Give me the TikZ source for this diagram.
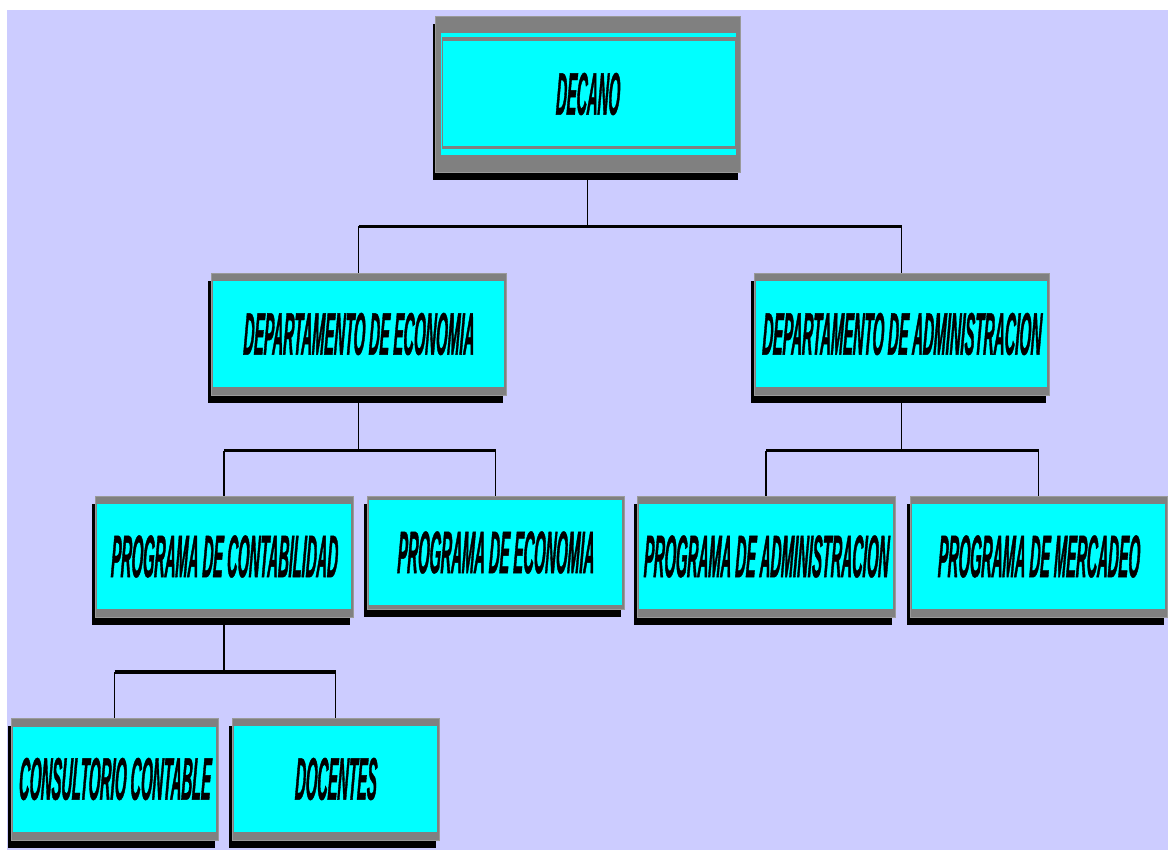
\documentclass[tikz,border=0pt]{standalone}
\usepackage{fontspec}
\newfontfamily\orgfont{Liberation Sans}[FakeStretch=0.245,FakeSlant=0.04,FakeBold=0.6]
\definecolor{bglav}{HTML}{CCCCFF}
\definecolor{boxcyan}{HTML}{00FFFF}
\definecolor{boxgray}{HTML}{808080}
\definecolor{edgegray}{HTML}{9A9A9A}
\pgfdeclarelayer{bg}
\pgfdeclarelayer{lines}
\pgfsetlayers{bg,lines,main}
\tikzset{
  conn/.style={line width=1.2pt, draw=black},
  bar/.style={line width=3.5pt, draw=black},
  boxframe/.style={fill=boxgray, draw=edgegray, line width=0.6pt, inner sep=0pt, outer sep=0pt, anchor=north west},
  boxlabel/.style={font=\orgfont\fontsize{60}{60}\selectfont\bfseries\itshape, inner sep=0pt, text=black},
}
% #1 name, #2 x1, #3 y1, #4 x2, #5 y2, #6 top pad, #7 bottom pad, #8 text
\newcommand\orgbox[8]{%
  \fill[black] (#2-3,#3+8) rectangle (#4-3,#5+8);
  \node[boxframe, minimum width={(#4-#2)*1pt}, minimum height={(#5-#3)*1pt}] (#1) at (#2,#3) {};
  \fill[boxcyan] (#2+2,#3+#6) rectangle (#4-2,#5-#7);
  \node[boxlabel] (#1-t) at (#1.center) {#8};
}
\begin{document}
\begin{tikzpicture}[x=1pt,y=-1pt]
\useasboundingbox (0,0) rectangle (1168,850);
\begin{pgfonlayer}{bg}
  \fill[white] (0,0) rectangle (1168,850);
  \fill[bglav] (7,10) rectangle (1168,850);
\end{pgfonlayer}

% DECANO (double frame)
\fill[black] (433,24) rectangle (738,180);
\node[boxframe, minimum width=305pt, minimum height=156pt] (decano) at (435,16) {};
\fill[boxcyan] (441,33) rectangle (736,155);
\fill[boxgray] (441.5,37.5) rectangle (735.5,149.5);
\fill[boxcyan] (442.5,41) rectangle (734.5,146);
\node[boxlabel] (decano-t) at (decano.center) {DECANO};

\orgbox{deco}{211}{273}{506}{395}{8}{8}{DEPARTAMENTO DE ECONOMIA}
\orgbox{dadm}{754}{273}{1049}{395}{8}{8}{DEPARTAMENTO DE ADMINISTRACION}
\orgbox{pcont}{95}{496}{353}{617}{8}{8}{PROGRAMA DE CONTABILIDAD}
\orgbox{peco}{367}{496}{624}{609}{4}{4}{PROGRAMA DE ECONOMIA}
\orgbox{padm}{637}{496}{895}{617}{8}{8}{PROGRAMA DE ADMINISTRACION}
\orgbox{pmer}{910}{496}{1167}{617}{8}{8}{PROGRAMA DE MERCADEO}
\orgbox{cons}{11}{718}{218}{840}{9}{8}{CONSULTORIO CONTABLE}
\orgbox{doc}{232}{718}{439}{840}{8}{8}{DOCENTES}

\begin{pgfonlayer}{lines}
  \coordinate (j1) at (588,226.5);
  \draw[conn] (decano.south) -- (decano.south |- j1);
  \draw[bar] (deco.north |- j1) -- (dadm.north |- j1);
  \draw[conn] (deco.north |- j1) -- (deco.north);
  \draw[conn] (dadm.north |- j1) -- (dadm.north);

  \coordinate (j2) at (358,450.5);
  \draw[conn] (deco.south) -- (deco.south |- j2);
  \draw[bar] (pcont.north |- j2) -- (peco.north |- j2);
  \draw[conn] (pcont.north |- j2) -- (pcont.north);
  \draw[conn] (peco.north |- j2) -- (peco.north);

  \draw[conn] (dadm.south) -- (dadm.south |- j2);
  \draw[bar] (padm.north |- j2) -- (pmer.north |- j2);
  \draw[conn] (padm.north |- j2) -- (padm.north);
  \draw[conn] (pmer.north |- j2) -- (pmer.north);

  \coordinate (j3) at (224,672);
  \draw[conn] (pcont.south) -- (pcont.south |- j3);
  \draw[bar] (cons.north |- j3) -- (doc.north |- j3);
  \draw[conn] (cons.north |- j3) -- (cons.north);
  \draw[conn] (doc.north |- j3) -- (doc.north);
\end{pgfonlayer}
\end{tikzpicture}
\end{document}
